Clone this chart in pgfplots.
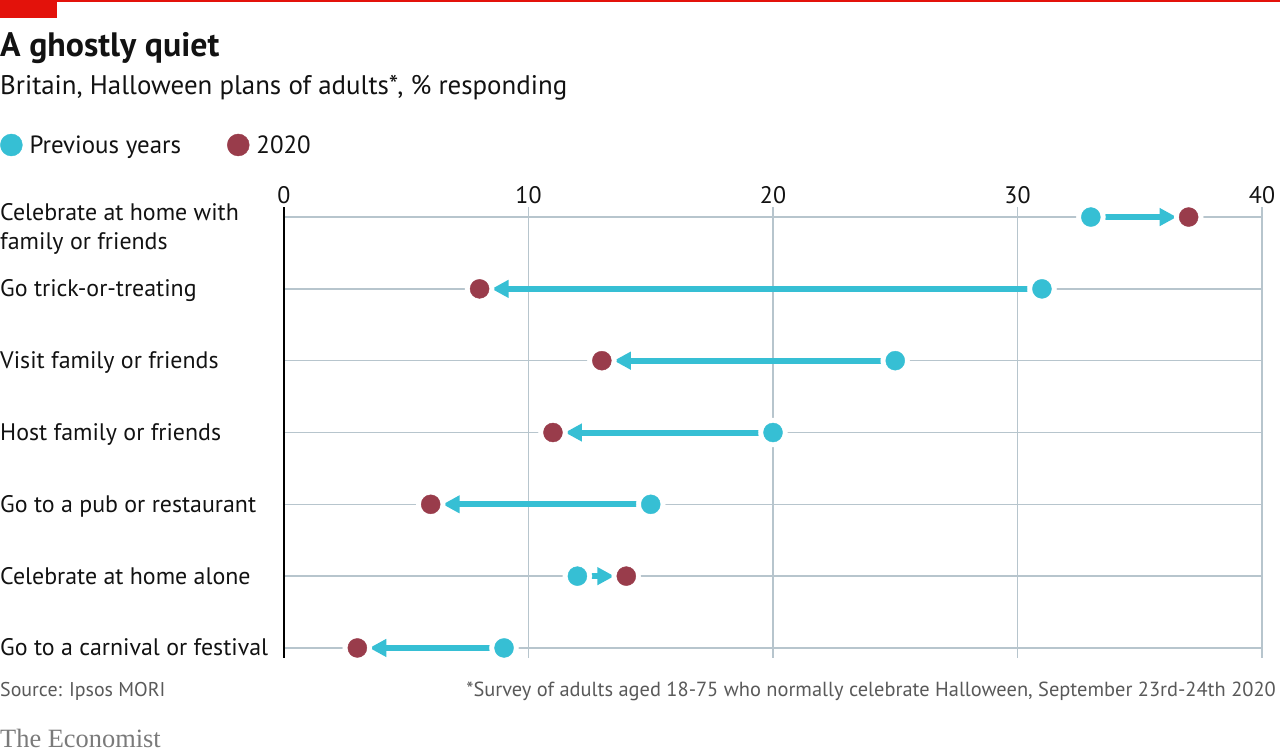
\documentclass[border=0pt]{standalone}
\usepackage{pgfplots}
\pgfplotsset{compat=1.18}
\usepackage{pgfplotstable}
\usepackage{fontspec}
\setmainfont{PT Sans}
\newfontfamily\ecoserif{Liberation Serif}
\usetikzlibrary{arrows.meta}

\definecolor{pcyan}{HTML}{36BFD4}
\definecolor{pred}{HTML}{993C4B}
\definecolor{gridc}{HTML}{B7C5CD}
\definecolor{ecored}{HTML}{E3120B}
\definecolor{ink}{HTML}{121212}
\definecolor{foot}{HTML}{595959}

% row, previous years, 2020
\pgfplotstableread{
row prev now
1 33 37
2 31 8
3 25 13
4 20 11
5 15 6
6 12 14
7 9 3
}\halloween

\tikzset{change/.style={pcyan, line width=6bp, shorten <=12bp, shorten >=12bp,
  -{Triangle[length=17bp,width=17bp]}}}

\begin{document}
\begin{tikzpicture}
\path[use as bounding box] (0,0) rectangle (1280bp,755bp);
\fill[ecored] (0,753bp) rectangle (1280bp,755bp);
\fill[ecored] (0,737bp) rectangle (57bp,755bp);
\node[anchor=base west, inner sep=0, text=ink, font=\bfseries\fontsize{34}{40}\selectfont] at (0,698bp) {A ghostly quiet};
\node[anchor=base west, inner sep=0, text=ink, font=\fontsize{27}{32}\selectfont] at (0,660bp) {Britain, Halloween plans of adults*, \% responding};

\begin{axis}[
  at={(284bp,97bp)}, anchor=south west,
  scale only axis, width=978bp, height=451bp,
  xmin=0, xmax=40, ymin=0.86, ymax=7.14, y dir=reverse,
  clip=false,
  axis line style={draw=none},
  major tick length=0pt,
  xtick={10,20,30,40},
  extra x ticks={0},
  extra x tick style={grid style={black, line width=1.6bp}},
  xticklabel pos=upper,
  ytick={1,...,7},
  yticklabels={
    {\raisebox{5bp}{\begin{tabular}[t]{@{}l@{}}Celebrate at home with\\family or friends\end{tabular}}},
    Go trick-or-treating, Visit family or friends, Host family or friends,
    Go to a pub or restaurant, Celebrate at home alone, Go to a carnival or festival},
  grid=major,
  grid style={gridc, line width=1.6bp},
  /pgf/number format/assume math mode=true,
  tick label style={text=ink, font=\fontsize{24}{30}\selectfont},
  yticklabel style={anchor=base west, inner sep=0pt, xshift=-284bp, yshift=-8bp},
  legend style={at={(-0.2904,1.1375)}, anchor=west, draw=none, fill=none,
    inner sep=0pt, legend columns=2, text=ink,
    font=\fontsize{25}{30}\selectfont,
    /tikz/column 2/.style={column sep=44bp}},
]
\addlegendimage{legend image code/.code={\fill[pcyan] (12bp,0bp) circle (11bp); \path (28bp,0bp);}}
\addlegendentry{Previous years}
\addlegendimage{legend image code/.code={\fill[pred] (11bp,0bp) circle (11bp); \path (27bp,0bp);}}
\addlegendentry{2020}

% white halos cut the grid round each dot
\addplot[only marks, mark=*, mark size=14.5bp, white, forget plot] table[x=prev, y=row] {\halloween};
\addplot[only marks, mark=*, mark size=14.5bp, white, forget plot] table[x=now, y=row] {\halloween};

\addplot[change, forget plot] coordinates {(33,1) (37,1)};
\addplot[change, forget plot] coordinates {(31,2) (8,2)};
\addplot[change, forget plot] coordinates {(25,3) (13,3)};
\addplot[change, forget plot] coordinates {(20,4) (11,4)};
\addplot[change, forget plot] coordinates {(15,5) (6,5)};
\addplot[change, forget plot] coordinates {(12,6) (14,6)};
\addplot[change, forget plot] coordinates {(9,7) (3,7)};

\addplot[only marks, mark=*, mark size=9.5bp, pcyan, forget plot] table[x=prev, y=row] {\halloween};
\addplot[only marks, mark=*, mark size=9.5bp, pred, forget plot] table[x=now, y=row] {\halloween};
\end{axis}

\node[anchor=base west, inner sep=0, text=foot, font=\fontsize{20}{24}\selectfont] at (0,58bp) {Source: Ipsos MORI};
\node[anchor=base east, inner sep=0, text=foot, font=\fontsize{20.5}{24}\selectfont] at (1276bp,58bp) {*Survey of adults aged 18-75 who normally celebrate Halloween, September 23rd-24th 2020};
\node[anchor=base west, inner sep=0, text=foot!80, font=\ecoserif\fontsize{26.5}{30}\selectfont] at (0,8bp) {The Economist};
\end{tikzpicture}
\end{document}
